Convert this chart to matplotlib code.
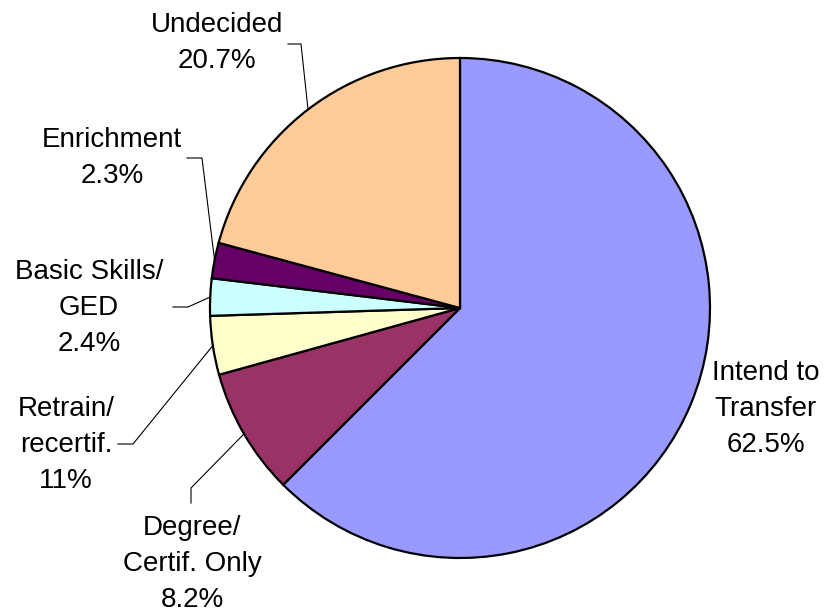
import numpy as np
import matplotlib
matplotlib.use('Agg')
import matplotlib.pyplot as plt

plt.rcParams['font.family'] = ['Liberation Sans', 'DejaVu Sans']

# data (slice sizes, labels as printed)
names = ['Intend to\nTransfer', 'Degree/\nCertif. Only', 'Retrain/\nrecertif.',
         'Basic Skills/\nGED', 'Enrichment', 'Undecided']
values = [62.5, 8.2, 3.8, 2.4, 2.3, 20.8]
pct_labels = ['62.5%', '8.2%', '11%', '2.4%', '2.3%', '20.7%']
colors = ['#9999FF', '#993366', '#FFFFCC', '#CCFFFF', '#660066', '#FFCC99']

W, H = 828, 615
fig = plt.figure(figsize=(W / 100, H / 100), dpi=100)
ax = fig.add_axes([0, 0, 1, 1])

cx, cy, r = 460, H - 308, 250
wedges, _ = ax.pie(values, colors=colors, startangle=90, counterclock=False,
                   center=(cx, cy), radius=r,
                   wedgeprops=dict(edgecolor='black', linewidth=1.6))
ax.set_xlim(0, W)
ax.set_ylim(0, H)
ax.set_aspect('equal')
ax.axis('off')

# label placement (text centre, leader elbow points) in pixel coords, y from top
layout = {
    0: dict(text=(766, 409), elbow=None),
    1: dict(text=(192, 564), elbow=[(191, 503), (191, 488)]),
    2: dict(text=(66, 445), elbow=[(118, 444), (133, 444)]),
    3: dict(text=(89, 308), elbow=[(173, 307), (188, 307)]),
    4: dict(text=(112, 158), elbow=[(187, 158), (202, 158)]),
    5: dict(text=(217, 43), elbow=[(288, 44), (301, 44)]),
}

for i, w in enumerate(wedges):
    lab = names[i] + '\n' + pct_labels[i]
    tx, ty = layout[i]['text']
    ax.text(tx, H - ty, lab, ha='center', va='center', fontsize=20,
            linespacing=1.52, color='black')
    if layout[i]['elbow'] is not None:
        mid = np.deg2rad((w.theta1 + w.theta2) / 2)
        ex, ey = cx + r * np.cos(mid), cy + r * np.sin(mid)
        pts = [(x, H - y) for x, y in layout[i]['elbow']] + [(ex, ey)]
        xs, ys = zip(*pts)
        ax.plot(xs, ys, color='black', linewidth=0.8)

fig.savefig('out.png', dpi=100, facecolor='white')
